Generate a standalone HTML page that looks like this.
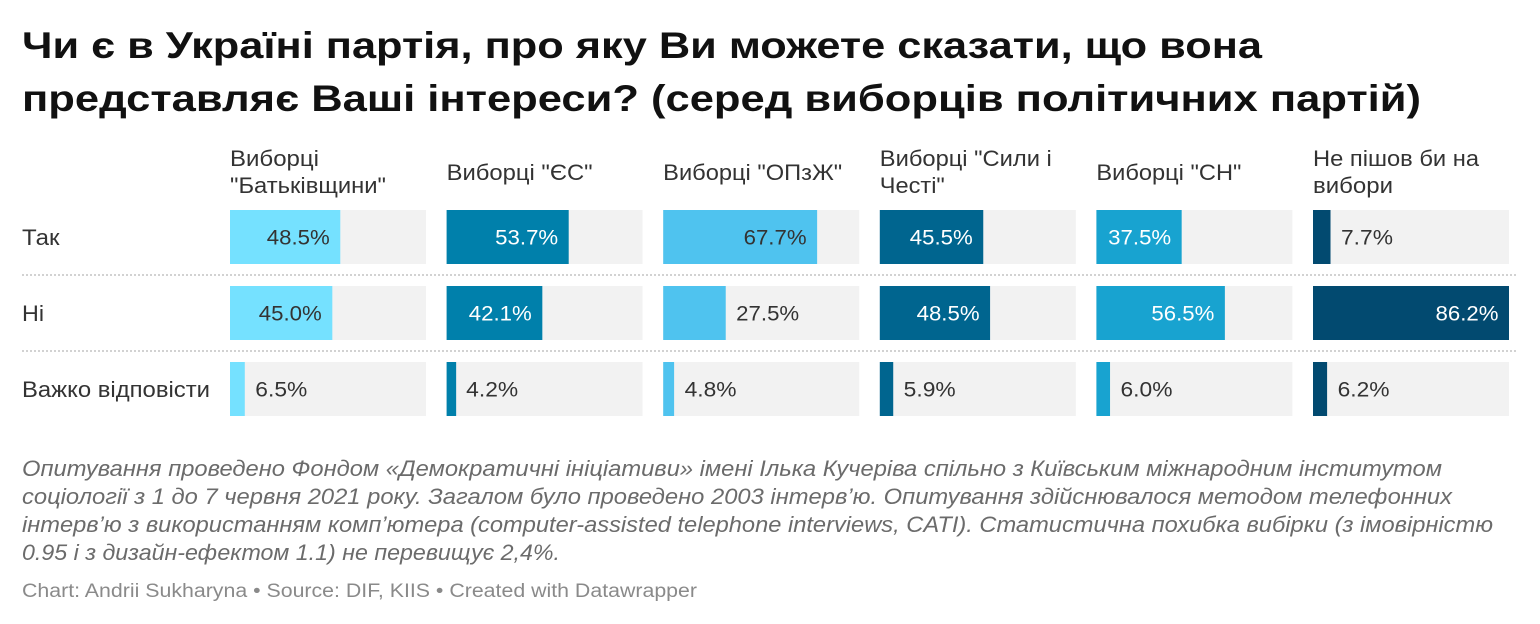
<!DOCTYPE html>
<html lang="uk">
<head>
<meta charset="utf-8">
<style>
  html, body { margin: 0; padding: 0; background: #ffffff; }
  body { width: 1540px; height: 624px; overflow: hidden; }
  svg { display: block; }
  text { font-family: "Liberation Sans", "DejaVu Sans", sans-serif; }
</style>
</head>
<body>
<svg width="1540" height="624" viewBox="0 0 1540 624" xmlns="http://www.w3.org/2000/svg">
  <rect x="0" y="0" width="1540" height="624" fill="#ffffff"/>

  <!-- Title -->
  <g font-weight="bold" font-size="37" fill="#111111">
    <text x="22" y="58" textLength="1240" lengthAdjust="spacingAndGlyphs">Чи є в Україні партія, про яку Ви можете сказати, що вона</text>
    <text x="22" y="111" textLength="1399" lengthAdjust="spacingAndGlyphs">представляє Ваші інтереси? (серед виборців політичних партій)</text>
  </g>

  <!-- Column headers -->
  <g font-size="22" fill="#333333">
    <text x="230" y="166" textLength="89" lengthAdjust="spacingAndGlyphs">Виборці</text>
    <text x="230" y="193" textLength="156" lengthAdjust="spacingAndGlyphs">"Батьківщини"</text>
    <text x="446.6" y="180" textLength="146" lengthAdjust="spacingAndGlyphs">Виборці "ЄС"</text>
    <text x="663.2" y="180" textLength="179" lengthAdjust="spacingAndGlyphs">Виборці "ОПзЖ"</text>
    <text x="879.8" y="166" textLength="172" lengthAdjust="spacingAndGlyphs">Виборці "Сили і</text>
    <text x="879.8" y="193" textLength="65" lengthAdjust="spacingAndGlyphs">Честі"</text>
    <text x="1096.4" y="180" textLength="145" lengthAdjust="spacingAndGlyphs">Виборці "СН"</text>
    <text x="1313" y="166" textLength="166" lengthAdjust="spacingAndGlyphs">Не пішов би на</text>
    <text x="1313" y="193" textLength="80" lengthAdjust="spacingAndGlyphs">вибори</text>
  </g>

  <!-- Row labels -->
  <g font-size="22" fill="#333333">
    <text x="22" y="245" textLength="37.5" lengthAdjust="spacingAndGlyphs">Так</text>
    <text x="22" y="321" textLength="22" lengthAdjust="spacingAndGlyphs">Ні</text>
    <text x="22" y="397" textLength="188" lengthAdjust="spacingAndGlyphs">Важко відповісти</text>
  </g>

  <!-- Dotted separators -->
  <line x1="22" y1="275" x2="1518" y2="275" stroke="#d2d2d2" stroke-width="2" stroke-dasharray="2 2"/>
  <line x1="22" y1="351" x2="1518" y2="351" stroke="#d2d2d2" stroke-width="2" stroke-dasharray="2 2"/>

  <!-- Background bars -->
  <g fill="#f2f2f2">
    <rect x="230" y="210" width="196" height="54"/>
    <rect x="230" y="286" width="196" height="54"/>
    <rect x="230" y="362" width="196" height="54"/>
    <rect x="446.6" y="210" width="196" height="54"/>
    <rect x="446.6" y="286" width="196" height="54"/>
    <rect x="446.6" y="362" width="196" height="54"/>
    <rect x="663.2" y="210" width="196" height="54"/>
    <rect x="663.2" y="286" width="196" height="54"/>
    <rect x="663.2" y="362" width="196" height="54"/>
    <rect x="879.8" y="210" width="196" height="54"/>
    <rect x="879.8" y="286" width="196" height="54"/>
    <rect x="879.8" y="362" width="196" height="54"/>
    <rect x="1096.4" y="210" width="196" height="54"/>
    <rect x="1096.4" y="286" width="196" height="54"/>
    <rect x="1096.4" y="362" width="196" height="54"/>
    <rect x="1313" y="210" width="196" height="54"/>
    <rect x="1313" y="286" width="196" height="54"/>
    <rect x="1313" y="362" width="196" height="54"/>
  </g>

  <!-- Value bars -->
  <g fill="#75e1ff">
    <rect x="230" y="210" width="110.28" height="54"/>
    <rect x="230" y="286" width="102.32" height="54"/>
    <rect x="230" y="362" width="14.78" height="54"/>
  </g>
  <g fill="#0080ab">
    <rect x="446.6" y="210" width="122.1" height="54"/>
    <rect x="446.6" y="286" width="95.73" height="54"/>
    <rect x="446.6" y="362" width="9.55" height="54"/>
  </g>
  <g fill="#4fc3ef">
    <rect x="663.2" y="210" width="153.93" height="54"/>
    <rect x="663.2" y="286" width="62.53" height="54"/>
    <rect x="663.2" y="362" width="10.91" height="54"/>
  </g>
  <g fill="#00658f">
    <rect x="879.8" y="210" width="103.46" height="54"/>
    <rect x="879.8" y="286" width="110.28" height="54"/>
    <rect x="879.8" y="362" width="13.42" height="54"/>
  </g>
  <g fill="#18a3d0">
    <rect x="1096.4" y="210" width="85.27" height="54"/>
    <rect x="1096.4" y="286" width="128.47" height="54"/>
    <rect x="1096.4" y="362" width="13.64" height="54"/>
  </g>
  <g fill="#024a70">
    <rect x="1313" y="210" width="17.51" height="54"/>
    <rect x="1313" y="286" width="196" height="54"/>
    <rect x="1313" y="362" width="14.1" height="54"/>
  </g>

  <!-- Value labels -->
  <g font-size="21">
    <text x="266.8" y="244.5" fill="#333333" textLength="63" lengthAdjust="spacingAndGlyphs">48.5%</text>
    <text x="258.8" y="320.5" fill="#333333" textLength="63" lengthAdjust="spacingAndGlyphs">45.0%</text>
    <text x="255.3" y="396.5" fill="#333333" textLength="52" lengthAdjust="spacingAndGlyphs">6.5%</text>

    <text x="495.2" y="244.5" fill="#ffffff" textLength="63" lengthAdjust="spacingAndGlyphs">53.7%</text>
    <text x="468.8" y="320.5" fill="#ffffff" textLength="63" lengthAdjust="spacingAndGlyphs">42.1%</text>
    <text x="466.2" y="396.5" fill="#333333" textLength="52" lengthAdjust="spacingAndGlyphs">4.2%</text>

    <text x="743.6" y="244.5" fill="#333333" textLength="63" lengthAdjust="spacingAndGlyphs">67.7%</text>
    <text x="736.2" y="320.5" fill="#333333" textLength="63" lengthAdjust="spacingAndGlyphs">27.5%</text>
    <text x="684.6" y="396.5" fill="#333333" textLength="52" lengthAdjust="spacingAndGlyphs">4.8%</text>

    <text x="909.8" y="244.5" fill="#ffffff" textLength="63" lengthAdjust="spacingAndGlyphs">45.5%</text>
    <text x="916.6" y="320.5" fill="#ffffff" textLength="63" lengthAdjust="spacingAndGlyphs">48.5%</text>
    <text x="903.7" y="396.5" fill="#333333" textLength="52" lengthAdjust="spacingAndGlyphs">5.9%</text>

    <text x="1108.2" y="244.5" fill="#ffffff" textLength="63" lengthAdjust="spacingAndGlyphs">37.5%</text>
    <text x="1151.4" y="320.5" fill="#ffffff" textLength="63" lengthAdjust="spacingAndGlyphs">56.5%</text>
    <text x="1120.5" y="396.5" fill="#333333" textLength="52" lengthAdjust="spacingAndGlyphs">6.0%</text>

    <text x="1341" y="244.5" fill="#333333" textLength="52" lengthAdjust="spacingAndGlyphs">7.7%</text>
    <text x="1435.5" y="320.5" fill="#ffffff" textLength="63" lengthAdjust="spacingAndGlyphs">86.2%</text>
    <text x="1337.6" y="396.5" fill="#333333" textLength="52" lengthAdjust="spacingAndGlyphs">6.2%</text>
  </g>

  <!-- Notes -->
  <g font-size="22" font-style="italic" fill="#6b6b6b">
    <text x="22" y="476" textLength="1420" lengthAdjust="spacingAndGlyphs">Опитування проведено Фондом «Демократичні ініціативи» імені Ілька Кучеріва спільно з Київським міжнародним інститутом</text>
    <text x="22" y="504" textLength="1430" lengthAdjust="spacingAndGlyphs">соціології з 1 до 7 червня 2021 року. Загалом було проведено 2003 інтерв’ю. Опитування здійснювалося методом телефонних</text>
    <text x="22" y="532" textLength="1471" lengthAdjust="spacingAndGlyphs">інтерв’ю з використанням комп’ютера (computer-assisted telephone interviews, CATI). Статистична похибка вибірки (з імовірністю</text>
    <text x="22" y="560" textLength="538" lengthAdjust="spacingAndGlyphs">0.95 і з дизайн-ефектом 1.1) не перевищує 2,4%.</text>
  </g>

  <!-- Credits -->
  <text x="22" y="597" font-size="19" fill="#8a8a8a" textLength="675" lengthAdjust="spacingAndGlyphs">Chart: Andrii Sukharyna • Source: DIF, KIIS • Created with Datawrapper</text>
</svg>
</body>
</html>
